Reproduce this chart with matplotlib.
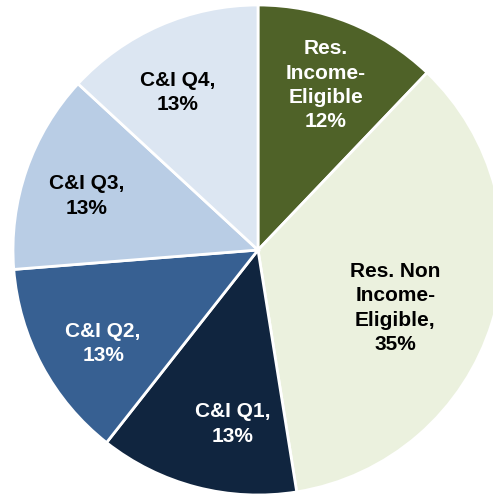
import numpy as np
import matplotlib.pyplot as plt

# slice data, clockwise from 12 o'clock
labels = ['Res.\nIncome-\nEligible\n12%', 'Res. Non\nIncome-\nEligible,\n35%',
          'C&I Q1,\n13%', 'C&I Q2,\n13%', 'C&I Q3,\n13%', 'C&I Q4,\n13%']
values = [12, 35, 13, 13, 13, 13]
colors = ['#4f6228', '#ebf1de', '#10253f', '#376092', '#b9cde5', '#dce6f2']
text_colors = ['white', 'black', 'white', 'white', 'black', 'black']

# label placement tweaks (clockwise degrees, fraction of radius)
label_shift = [0.6, 5.6, -6.3, -3.0, -1.6, -3.4]
label_dist = [0.727, 0.608, 0.718, 0.739, 0.735, 0.722]

plt.rcParams['font.family'] = ['Liberation Sans', 'DejaVu Sans']

fig = plt.figure(figsize=(4.93, 4.96), dpi=100)
ax = fig.add_axes([0, 0, 1, 1])

wedges, texts = ax.pie(values, labels=labels, colors=colors, startangle=90,
                       counterclock=False, labeldistance=0.73,
                       wedgeprops=dict(edgecolor='white', linewidth=2),
                       textprops=dict(fontsize=15, fontweight='bold',
                                      linespacing=1.35))

for w, t, c, sh, d in zip(wedges, texts, text_colors, label_shift, label_dist):
    ang = np.deg2rad((w.theta1 + w.theta2) / 2 - sh)
    t.set_position((d * np.cos(ang), d * np.sin(ang)))
    t.set_color(c)
    t.set_horizontalalignment('center')
    t.set_verticalalignment('center')

# pie center at (258, 250) px, radius ~245 px, cropped on the right
r = 245.0
ax.set_xlim(-258 / r, (493 - 258) / r)
ax.set_ylim(-(496 - 250) / r, 250 / r)
ax.set_aspect('auto')
ax.axis('off')

fig.savefig('out.png', dpi=100)
